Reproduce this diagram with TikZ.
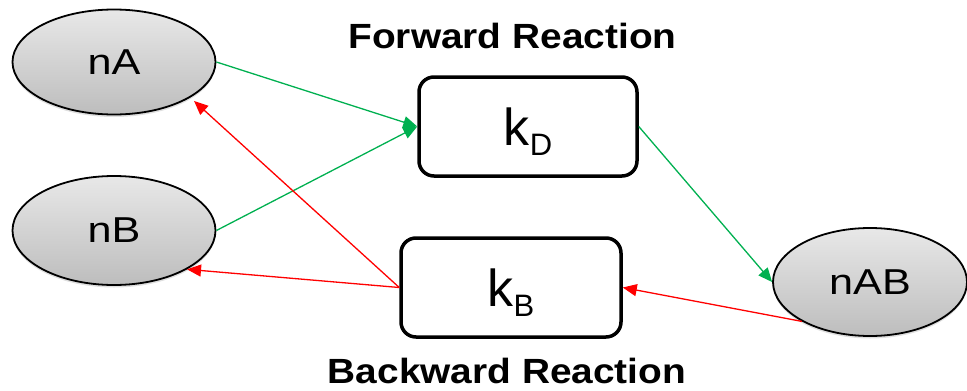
\documentclass[tikz,border=0pt]{standalone}
\usepackage{fontspec}
\setmainfont{Liberation Sans}
\newfontfamily\titlefont{Liberation Sans}[FakeStretch=1.11]
\newfontfamily\labelfont{Liberation Sans}[FakeStretch=1.2]
\usetikzlibrary{arrows.meta,shapes.geometric,shadows}

\definecolor{fwdgreen}{HTML}{00B050}
\definecolor{bwdred}{HTML}{FF0000}
\definecolor{elltop}{HTML}{E8E8E8}
\definecolor{ellbot}{HTML}{BDBDBD}

% rate constant with a lowered subscript letter
\newcommand{\rateconst}[1]{k\smash{\raisebox{-10pt}{\fontsize{31}{31}\selectfont #1}}}

\begin{document}
\begin{tikzpicture}[x=1pt,y=-1pt,
  species/.style={ellipse, draw=black, line width=1.8pt,
    top color=elltop, bottom color=ellbot, inner sep=0pt,
    font=\labelfont\fontsize{36}{36}\selectfont,
    drop shadow={opacity=0.25, shadow xshift=0pt, shadow yshift=-2.5pt}},
  ratebox/.style={draw=black, line width=3.5pt, rounded corners=15pt,
    fill=white, inner sep=0pt, font=\fontsize{52}{52}\selectfont},
  heading/.style={font=\titlefont\bfseries\fontsize{35}{35}\selectfont, inner sep=0pt},
  fwd/.style={draw=fwdgreen, line width=1.3pt, -{Triangle[length=14pt,width=12pt]}},
  bwd/.style={draw=bwdred, line width=1.3pt, -{Triangle[length=14pt,width=12pt]}},
]
\useasboundingbox (0,0) rectangle (967,391);

% species
\node[species, minimum width=203pt, minimum height=105pt] (nA) at (114,62) {nA};
\node[species, minimum width=203pt, minimum height=109pt] (nB) at (114,230.5) {nB};
\node[species, minimum width=194pt, minimum height=108pt] (nAB) at (870,282) {nAB};

% rate constants
\node[ratebox, minimum width=218pt, minimum height=99pt] (kD) at (528,126.5) {\rateconst{D}};
\node[ratebox, minimum width=220pt, minimum height=99pt] (kB) at (511,287.5) {\rateconst{B}};

% headings
\node[heading] (fwdtitle) at (512.5,35.5) {Forward Reaction};
\node[heading] (bwdtitle) at (507,371) {Backward Reaction};

% forward reaction
\draw[fwd] (nA.east) -- (kD.west);
\draw[fwd] (nB.east) -- (kD.west);
\draw[fwd] (kD.east) -- (nAB.west);

% backward reaction
\draw[bwd] (nAB.210) -- (kB.east);
\draw[bwd, shorten >=5pt] (kB.west) -- (nA.-25);
\draw[bwd] (kB.west) -- (nB.-28);
\end{tikzpicture}
\end{document}
